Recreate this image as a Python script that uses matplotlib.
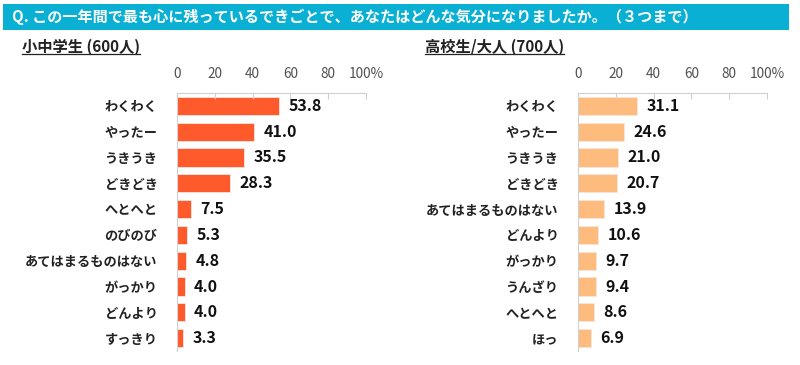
import matplotlib
matplotlib.use("Agg")
import matplotlib.pyplot as plt
from matplotlib.patches import Rectangle
from matplotlib.lines import Line2D

plt.rcParams['font.family'] = ['Noto Sans CJK JP', 'DejaVu Sans']

# data
kids_labels = ['わくわく', 'やったー', 'うきうき', 'どきどき', 'へとへと', 'のびのび',
               'あてはまるものはない', 'がっかり', 'どんより', 'すっきり']
kids_values = [53.8, 41.0, 35.5, 28.3, 7.5, 5.3, 4.8, 4.0, 4.0, 3.3]
adult_labels = ['わくわく', 'やったー', 'うきうき', 'どきどき', 'あてはまるものはない',
                'どんより', 'がっかり', 'うんざり', 'へとへと', 'ほっ']
adult_values = [31.1, 24.6, 21.0, 20.7, 13.9, 10.6, 9.7, 9.4, 8.6, 6.9]
tick_vals = [0, 20, 40, 60, 80, 100]
tick_text = ['0', '20', '40', '60', '80', '100%']

title = 'Q. この一年間で最も心に残っているできごとで、あなたはどんな気分になりましたか。（３つまで）'

W, H = 800, 365
fig = plt.figure(figsize=(W / 100, H / 100), dpi=100)

# title band
fig.patches.append(Rectangle((3 / W, 1 - 30 / H), 786 / W, 26 / H, transform=fig.transFigure,
                             facecolor='#0AAFD4', edgecolor='none'))
fig.text(12 / W, 1 - 17 / H, title, color='white', fontsize=10.9, fontweight='bold',
         va='center', ha='left')


def panel(left_px, labels, values, color, heading, head_x):
    ax = fig.add_axes([left_px / W, 1 - 351 / H, 189 / W, 258 / H])
    y = list(range(len(labels)))
    ax.barh(y, values, height=0.7, color=color, edgecolor='#F5E6DF', linewidth=0.6)
    ax.set_xlim(0, 100)
    ax.set_ylim(len(labels) - 0.5, -0.5)
    ax.set_yticks(y)
    ax.set_yticklabels(labels, fontsize=9.5, fontweight='bold', color='#222222')
    ax.tick_params(axis='y', length=0, pad=14)
    ax.xaxis.tick_top()
    ax.set_xticks(tick_vals)
    ax.set_xticklabels(tick_text, fontsize=9.8, color='#505050')
    ax.tick_params(axis='x', direction='in', length=4, color='#D0D0D0', pad=9)
    for s in ['bottom', 'right']:
        ax.spines[s].set_visible(False)
    ax.spines['top'].set_color('#D0D0D0')
    ax.spines['left'].set_color('#D0D0D0')
    for yy, v in zip(y, values):
        ax.text(v + 5, yy, f'{v:.1f}', va='center', ha='left', fontsize=11.5,
                fontweight='bold', color='#111111')
    t = fig.text(head_x / W, 1 - 47 / H, heading, fontsize=11, fontweight='bold',
                 va='center', ha='left', color='#222222')
    return t


t1 = panel(177, kids_labels, kids_values, '#FF5A2B', '小中学生 (600人)', 22)
t2 = panel(578, adult_labels, adult_values, '#FDBB7E', '高校生/大人 (700人)', 425)

# underline the two panel headings
fig.canvas.draw()
r = fig.canvas.get_renderer()
for t in (t1, t2):
    bb = t.get_window_extent(renderer=r)
    fig.add_artist(Line2D([bb.x0 / W, bb.x1 / W], [(bb.y0 + 1) / H, (bb.y0 + 1) / H],
                          transform=fig.transFigure, color='#222222', linewidth=0.9))

fig.savefig('out.png', dpi=100, facecolor='white')
